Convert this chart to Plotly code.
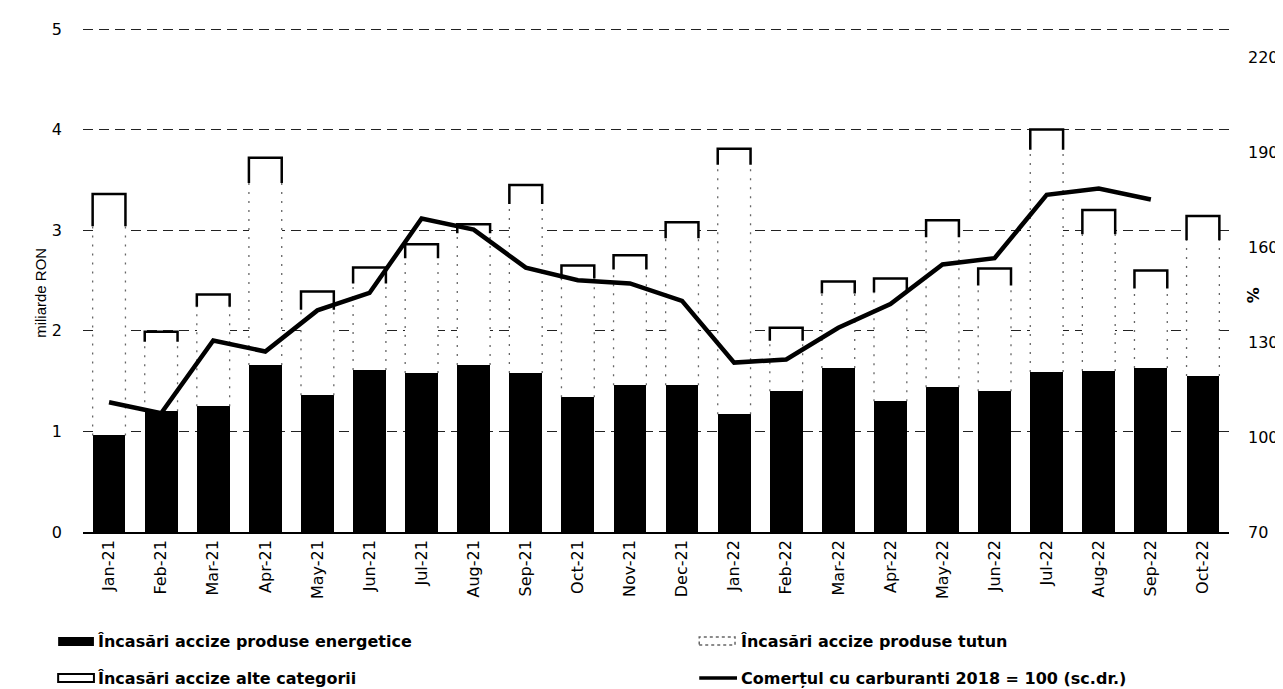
import plotly.graph_objects as go

months = ["Jan-21", "Feb-21", "Mar-21", "Apr-21", "May-21", "Jun-21", "Jul-21", "Aug-21",
          "Sep-21", "Oct-21", "Nov-21", "Dec-21", "Jan-22", "Feb-22", "Mar-22", "Apr-22",
          "May-22", "Jun-22", "Jul-22", "Aug-22", "Sep-22", "Oct-22"]

energy = [0.96, 1.20, 1.25, 1.66, 1.36, 1.61, 1.58, 1.66, 1.58, 1.34, 1.46,
          1.46, 1.17, 1.40, 1.63, 1.30, 1.44, 1.40, 1.59, 1.60, 1.63, 1.55]
tobacco = [2.08, 0.69, 0.99, 1.81, 0.85, 0.86, 1.14, 1.31, 1.68, 1.18, 1.15,
           1.46, 2.48, 0.50, 0.74, 1.08, 1.49, 1.05, 2.21, 1.36, 0.79, 1.35]
other = [0.32, 0.10, 0.12, 0.25, 0.18, 0.16, 0.14, 0.09, 0.19, 0.13, 0.14,
         0.16, 0.16, 0.13, 0.12, 0.14, 0.17, 0.17, 0.20, 0.24, 0.18, 0.24]
fuel_index = [111, 107.5, 130.5, 127, 140, 145.5, 169, 165.5, 153.5, 149.5, 148.5,
              143, 123.5, 124.5, 134.5, 142, 154.5, 156.5, 176.5, 178.5, 175, None]

left_ticks = [0, 1, 2, 3, 4, 5]
right_ticks = [70, 100, 130, 160, 190, 220]

legend_names = ["Încasări accize produse energetice", "Încasări accize produse tutun",
                "Încasări accize alte categorii", "Comerțul cu carburanti 2018 = 100 (sc.dr.)"]

W, H = 1283, 689
L, R, T, B = 75, 55, 19, 165
PW, PH = W - L - R, H - T - B
BW = 0.63
FONT = "DejaVu Sans"

def px_x(p):
    return (p - L) / PW

def px_y(p):
    return (H - B - p) / PH

xs = list(range(len(months)))

fig = go.Figure()
fig.add_trace(go.Bar(x=xs, y=energy, width=BW, marker=dict(color="black", line=dict(width=0)),
                     name=legend_names[0], showlegend=False))
fig.add_trace(go.Bar(x=xs, y=tobacco, width=BW, marker=dict(color="white", line=dict(width=0)),
                     name=legend_names[1], showlegend=False))
fig.add_trace(go.Bar(x=xs, y=other, width=BW, marker=dict(color="white", line=dict(width=0)),
                     name=legend_names[2], showlegend=False))

# outlines derived from the data
ox, oy, tx, ty = [], [], [], []
for i in xs:
    e, t, o = energy[i], tobacco[i], other[i]
    a, b = i - BW / 2, i + BW / 2
    base = e + t
    top = base + o
    ox += [a, a, b, b, None]
    oy += [base, top, top, base, None]
    tx += [a, a, None, b, b, None]
    ty += [e, base, None, e, base, None]

fig.add_trace(go.Scatter(x=tx, y=ty, mode="lines",
                         line=dict(color="#666", width=1.3, dash="2px,7px"),
                         showlegend=False, hoverinfo="skip"))
fig.add_trace(go.Scatter(x=ox, y=oy, mode="lines", line=dict(color="black", width=2.5),
                         showlegend=False, hoverinfo="skip"))

fig.add_trace(go.Scatter(x=xs, y=fuel_index, mode="lines", yaxis="y2",
                         line=dict(color="black", width=4.5), name=legend_names[3],
                         showlegend=False))

fig.update_layout(
    width=W, height=H,
    margin=dict(l=L, r=R, t=T, b=B),
    paper_bgcolor="white", plot_bgcolor="white",
    barmode="stack",
    font=dict(family=FONT, color="black", size=15),
    xaxis=dict(range=[-0.5, len(months) - 0.5], tickmode="array", tickvals=xs, ticktext=months,
               tickangle=-90, showgrid=False, zeroline=False, showline=True, linecolor="black",
               linewidth=1.5, ticks="", tickfont=dict(size=16, family=FONT)),
    yaxis=dict(range=[0, 5.02], tickvals=left_ticks, showgrid=True, gridcolor="#222",
               gridwidth=1, griddash="10px,6px", zeroline=False, showline=False, ticks="",
               tickfont=dict(size=16, family=FONT), ticklabelstandoff=20),
    yaxis2=dict(range=[70, 229.5], tickvals=right_ticks, overlaying="y", side="right",
                showgrid=False, zeroline=False, showline=False, ticks="",
                tickfont=dict(size=16, family=FONT), ticklabelstandoff=18),
)

# axis titles
fig.add_annotation(x=px_x(21), y=px_y(285), xref="paper", yref="paper", text="miliarde RON",
                   textangle=-90, showarrow=False, font=dict(family="Liberation Sans", size=15))
fig.add_annotation(x=px_x(1264), y=px_y(287), xref="paper", yref="paper", text="<b>%</b>",
                   textangle=-90, showarrow=False, font=dict(family=FONT, size=16))

# legend drawn manually
rows = [633, 670]
cols = [(50, 88), (695, 735)]
items = [(0, 0, "energy"), (1, 0, "tobacco"), (0, 1, "other"), (1, 1, "line")]
for idx, (c, r, kind) in enumerate(items):
    ix, tx0 = cols[c]
    yc = rows[r]
    if kind == "energy":
        fig.add_shape(type="rect", xref="paper", yref="paper", x0=px_x(ix), x1=px_x(ix + 36),
                      y0=px_y(yc + 5), y1=px_y(yc - 4), fillcolor="black", line=dict(width=0))
    elif kind == "other":
        fig.add_shape(type="rect", xref="paper", yref="paper", x0=px_x(ix), x1=px_x(ix + 36),
                      y0=px_y(yc + 4), y1=px_y(yc - 4), fillcolor="white",
                      line=dict(color="black", width=2))
    elif kind == "tobacco":
        fig.add_shape(type="rect", xref="paper", yref="paper", x0=px_x(ix), x1=px_x(ix + 36),
                      y0=px_y(yc + 4), y1=px_y(yc - 4), fillcolor="white",
                      line=dict(color="#666", width=1.5, dash="dot"))
    else:
        fig.add_shape(type="line", xref="paper", yref="paper", x0=px_x(ix), x1=px_x(ix + 38),
                      y0=px_y(yc), y1=px_y(yc), line=dict(color="black", width=3.5))
    fig.add_annotation(x=px_x(tx0), y=px_y(yc), xref="paper", yref="paper",
                       text="<b>" + legend_names[idx] + "</b>",
                       xanchor="left", yanchor="middle", showarrow=False,
                       font=dict(family=FONT, size=16, color="black"))

fig.write_html("out.html")
